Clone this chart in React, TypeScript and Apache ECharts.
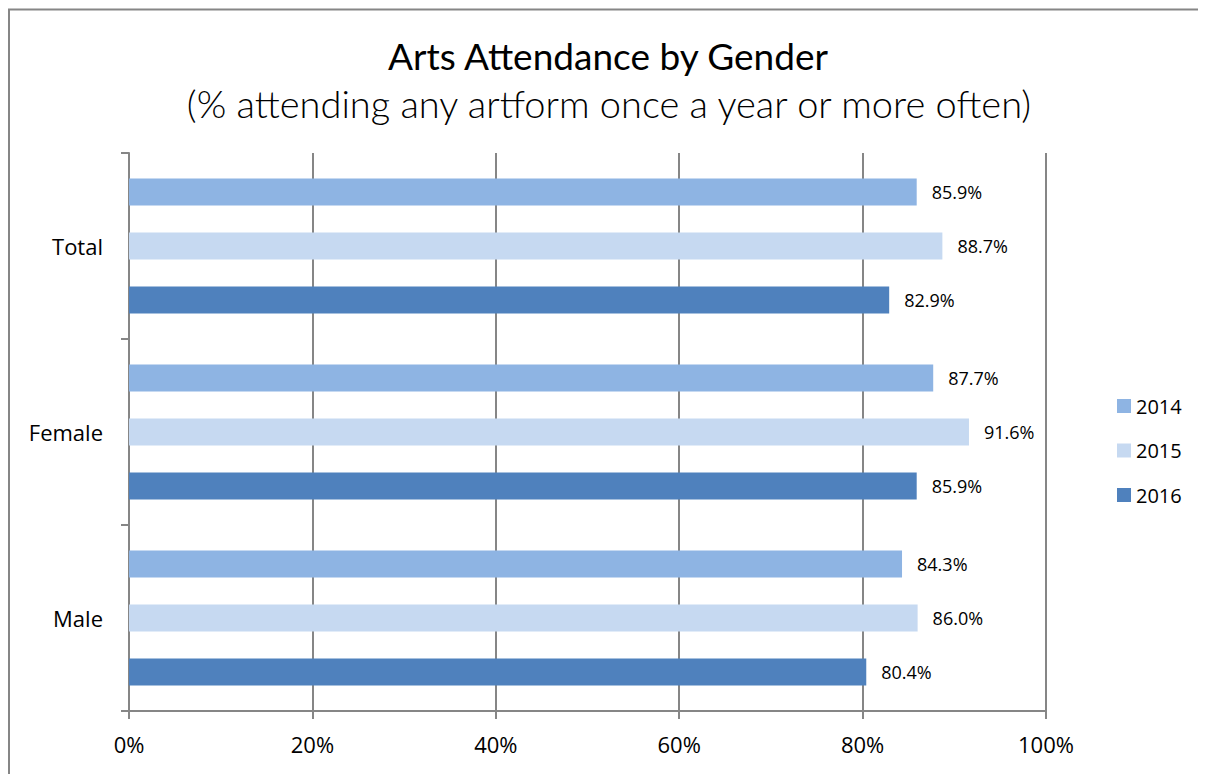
import React, { useEffect, useRef } from "react";
import * as echarts from "echarts";

const categories = ["Total", "Female", "Male"];
const years = ["2014", "2015", "2016"];
const values2014 = [85.9, 87.7, 84.3];
const values2015 = [88.7, 91.6, 86.0];
const values2016 = [82.9, 85.9, 80.4];
const colors = ["#8EB4E3", "#C6D9F1", "#4F81BD"];
const titleText = "Arts Attendance by Gender";
const subtitleText = "(% attending any artform once a year or more often)";

export default function App() {
  const ref = useRef<HTMLDivElement>(null);
  useEffect(() => {
    if (!ref.current) return;
    const chart = echarts.init(ref.current, null, { renderer: "svg" });
    const seriesData = [values2014, values2015, values2016];
    const labelFont = "'Open Sans', sans-serif";
    chart.setOption({
      animation: false,
      backgroundColor: "#ffffff",
      graphic: [
        {
          type: "rect",
          shape: { x: 1, y: 1.5, width: 1400, height: 1000 },
          style: { fill: "none", stroke: "#868686", lineWidth: 2 },
          silent: true,
        },
        {
          type: "text",
          x: 600,
          y: 47,
          style: {
            text: titleText,
            fontFamily: "Lato, sans-serif",
            fontSize: 37,
            fontWeight: "normal",
            fill: "#000000",
            align: "center",
            verticalAlign: "middle",
          },
        },
        {
          type: "text",
          x: 601,
          y: 95,
          style: {
            text: subtitleText,
            fontFamily: "Lato, sans-serif",
            fontSize: 38,
            fontWeight: 300,
            fill: "#000000",
            align: "center",
            verticalAlign: "middle",
          },
        },
      ],
      legend: {
        orient: "vertical",
        left: 1109,
        top: 388,
        padding: 0,
        itemWidth: 14,
        itemHeight: 14,
        itemGap: 24.5,
        icon: "rect",
        data: years,
        textStyle: {
          fontFamily: labelFont,
          fontSize: 20,
          lineHeight: 20,
          color: "#000000",
          padding: [0, 0, 0, 0],
        },
      },
      grid: { left: 121, right: 160, top: 145, bottom: 63 },
      xAxis: {
        type: "value",
        min: 0,
        max: 100,
        interval: 20,
        axisLine: { show: true, lineStyle: { color: "#868686", width: 2 } },
        axisTick: { show: true, length: 8, lineStyle: { color: "#868686", width: 2 } },
        splitLine: { show: true, lineStyle: { color: "#868686", width: 2 } },
        axisLabel: {
          formatter: "{value}%",
          fontFamily: labelFont,
          fontSize: 22,
          color: "#000000",
          margin: 22,
        },
      },
      yAxis: {
        type: "category",
        data: categories,
        inverse: true,
        axisLine: { show: true, lineStyle: { color: "#868686", width: 2 } },
        axisTick: { show: true, length: 8, lineStyle: { color: "#868686", width: 2 } },
        axisLabel: {
          fontFamily: labelFont,
          fontSize: 22,
          color: "#000000",
          margin: 26,
        },
      },
      series: years.map((y, i) => ({
        name: y,
        type: "bar",
        data: seriesData[i],
        barWidth: 27,
        barGap: "100%",
        itemStyle: { color: colors[i] },
        label: {
          show: true,
          position: "right",
          distance: 15,
          formatter: (p: any) => `${Number(p.value).toFixed(1)}%`,
          fontFamily: labelFont,
          fontSize: 18,
          color: "#000000",
        },
      })),
    });
    return () => chart.dispose();
  }, []);
  return <div ref={ref} style={{ width: 1198, height: 766 }} />;
}
